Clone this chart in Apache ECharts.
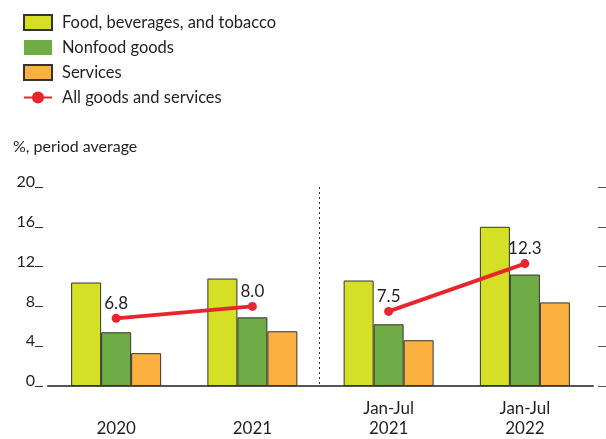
<!DOCTYPE html>
<html>
<head>
<meta charset="utf-8">
<script src="https://cdn.jsdelivr.net/npm/echarts@6/dist/echarts.min.js"></script>
<style>
html,body{margin:0;padding:0;background:#fff;}
#chart{width:606px;height:439px;}
</style>
</head>
<body>
<div id="chart"></div>
<script>
// ---- data ----
var categories = ['\n2020', '\n2021', 'Jan-Jul\n2021', 'Jan-Jul\n2022'];
var foodValues = [10.4, 10.8, 10.6, 16.0];
var nonfoodValues = [5.4, 6.9, 6.2, 11.2];
var servicesValues = [3.3, 5.5, 4.6, 8.4];
var allGoodsValues = [6.8, 8.0, 7.5, 12.3];
var yTicks = [0, 4, 8, 12, 16, 20];

var seriesNames = ['Food, beverages, and tobacco', 'Nonfood goods', 'Services', 'All goods and services'];
var colors = ['#d5df25', '#6fac46', '#fbb040', '#e8252b'];
var FONT = 'Lato';
var TXT = '#231f20';

var annualLine = allGoodsValues.map(function (v, i) { return i < 2 ? v : '-'; });
var partialLine = allGoodsValues.map(function (v, i) { return i >= 2 ? v : '-'; });

var chart = echarts.init(document.getElementById('chart'), null, {renderer: 'canvas'});

function barSeries(name, data, color) {
  return {
    name: name, type: 'bar', data: data, barWidth: 30, barGap: '0%',
    itemStyle: {color: color, borderColor: '#333', borderWidth: 1},
    emphasis: {disabled: true}
  };
}
function lineSeries(data) {
  return {
    name: seriesNames[3], type: 'line', data: data,
    symbol: 'circle', symbolSize: 9, z: 5,
    lineStyle: {color: colors[3], width: 3.8},
    itemStyle: {color: colors[3]},
    label: {
      show: true, position: 'top', distance: 2,
      fontFamily: FONT, fontSize: 17, color: TXT,
      formatter: function (p) { return Number(p.value).toFixed(1); }
    },
    emphasis: {disabled: true}
  };
}

var option = {
  animation: false,
  textStyle: {fontFamily: FONT},
  title: {
    text: '%, period average', left: 8, top: 134,
    textStyle: {fontFamily: FONT, fontSize: 16, fontWeight: 'normal', color: TXT}
  },
  legend: {
    orient: 'vertical', left: 18, top: 9, itemWidth: 28, itemHeight: 15, itemGap: 8,
    textStyle: {fontFamily: FONT, fontSize: 16.5, color: TXT, padding: [0, 0, 0, 5]},
    data: [
      {name: seriesNames[0], icon: 'rect'},
      {name: seriesNames[1], icon: 'rect', itemStyle: {borderWidth: 0}},
      {name: seriesNames[2], icon: 'rect'},
      {name: seriesNames[3]}
    ]
  },
  grid: {left: 48, right: 13, top: 187, bottom: 51, containLabel: false},
  xAxis: {
    type: 'category', data: categories, boundaryGap: true,
    axisLine: {show: true, lineStyle: {color: '#555', width: 2}},
    axisTick: {show: false},
    axisLabel: {fontFamily: FONT, fontSize: 17, color: TXT, lineHeight: 20, margin: 13, interval: 0},
    splitLine: {show: false}
  },
  yAxis: [
    {
      type: 'value', min: yTicks[0], max: yTicks[yTicks.length - 1], interval: 4,
      offset: 5,
      axisLine: {show: false},
      axisTick: {show: true, length: 8, lineStyle: {color: '#333', width: 1}},
      axisLabel: {fontFamily: FONT, fontSize: 16, color: TXT, margin: 8, verticalAlign: 'bottom', lineHeight: 10},
      splitLine: {show: false}
    },
    {
      type: 'value', position: 'right', min: yTicks[0], max: yTicks[yTicks.length - 1], interval: 4,
      offset: 5,
      axisLine: {show: false},
      axisTick: {show: true, length: 8, lineStyle: {color: '#555', width: 1}},
      axisLabel: {show: false},
      splitLine: {show: false}
    }
  ],
  series: [
    barSeries(seriesNames[0], foodValues, colors[0]),
    barSeries(seriesNames[1], nonfoodValues, colors[1]),
    barSeries(seriesNames[2], servicesValues, colors[2]),
    lineSeries(annualLine),
    lineSeries(partialLine)
  ]
};
chart.setOption(option);

// dashed divider between the annual and the Jan-Jul periods, placed through the axis scales
var xa = chart.convertToPixel({xAxisIndex: 0}, categories[1]);
var xb = chart.convertToPixel({xAxisIndex: 0}, categories[2]);
var yTop = chart.convertToPixel({yAxisIndex: 0}, yTicks[yTicks.length - 1]);
var yBot = chart.convertToPixel({yAxisIndex: 0}, yTicks[0]);
var xm = Math.round((xa + xb) / 2) - 1.5;
chart.setOption({
  graphic: [{
    type: 'line', z: 1,
    shape: {x1: xm, y1: yTop, x2: xm, y2: yBot},
    style: {stroke: '#333', lineWidth: 1, lineDash: [2, 3]}
  }]
});
</script>
</body>
</html>
